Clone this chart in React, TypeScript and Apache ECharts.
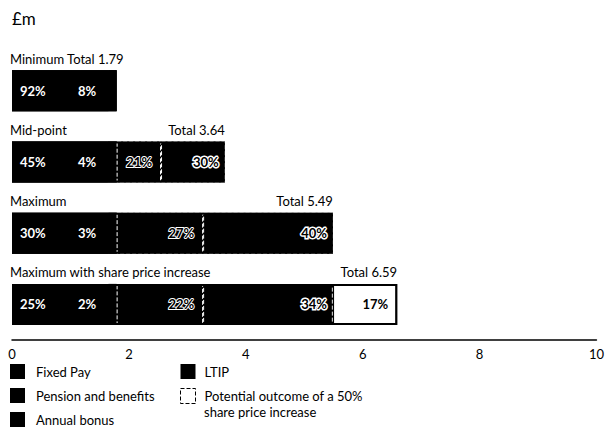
import React, { useEffect, useRef } from "react";
import * as echarts from "echarts";

const categories = ["Minimum", "Mid-point", "Maximum", "Maximum with share price increase"];
const fixedPay = [1.65, 1.64, 1.65, 1.65];
const pension = [0.14, 0.15, 0.14, 0.14];
const bonus = [0, 0.76, 1.48, 1.48];
const ltip = [0, 1.09, 2.22, 2.22];
const shareIncrease = [0, 0, 0, 1.1];
const totals = [1.79, 3.64, 5.49, 6.59];
const fixedPct = [92, 45, 30, 25];
const pensionPct = [8, 4, 3, 2];
const bonusPct = [0, 21, 27, 22];
const ltipPct = [0, 30, 40, 34];
const sharePct = [0, 0, 0, 17];
const xTicks = [0, 2, 4, 6, 8, 10];
const legendNames = [
  "Fixed Pay",
  "Pension and benefits",
  "Annual bonus",
  "LTIP",
  "Potential outcome of a 50%",
];
const legendSecondLine = "share price increase";

const FONT = "Lato, 'Open Sans', sans-serif";
const orEmpty = (arr: number[]) => arr.map((v) => (v ? v : "-"));

export default function App() {
  const ref = useRef<HTMLDivElement>(null);
  useEffect(() => {
    if (!ref.current) return;
    const chart = echarts.init(ref.current, null, { renderer: "svg" });
    const base = { type: "bar", stack: "pay", barWidth: 41, silent: true, z: 2 };
    const pctLabel = { color: "#000", fontSize: 13, fontWeight: "bold", fontFamily: FONT };
    const solid = { color: "#000", borderWidth: 0 };
    const legendCommon = {
      orient: "vertical",
      top: 364,
      padding: 0,
      itemWidth: 15,
      itemHeight: 15,
      itemGap: 9,
      icon: "rect",
      selectedMode: false,
      height: 80,
    };
    chart.setOption({
      animation: false,
      textStyle: { fontFamily: FONT, color: "#000" },
      grid: { left: 12, right: 10, top: 55, bottom: 92, containLabel: false },
      xAxis: {
        type: "value",
        min: xTicks[0],
        max: xTicks[xTicks.length - 1],
        interval: 2,
        axisLine: { show: true, lineStyle: { color: "#000", width: 1.5 } },
        axisTick: { show: false },
        splitLine: { show: false },
        axisLabel: { color: "#000", fontSize: 13, margin: 7, fontFamily: FONT },
      },
      yAxis: {
        type: "category",
        data: categories,
        inverse: true,
        show: false,
      },
      legend: [
        {
          ...legendCommon,
          left: 10,
          data: legendNames.slice(0, 3).map((n) => ({ name: n, itemStyle: solid })),
          textStyle: { fontSize: 13, color: "#000", fontFamily: FONT, padding: [0, 0, 0, 6], lineHeight: 15 },
        },
        {
          ...legendCommon,
          left: 180,
          data: [
            { name: legendNames[3], itemStyle: solid },
            {
              name: legendNames[4],
              itemStyle: { color: "#fff", borderColor: "#000", borderWidth: 1, borderType: "dashed" },
            },
          ],
          textStyle: { fontSize: 13, color: "#000", fontFamily: FONT, padding: [0, 0, 0, 4], lineHeight: 15 },
        },
      ],
      graphic: [
        { type: "text", left: 12, top: 10, style: { text: "£m", fontSize: 17, fill: "#000", fontFamily: FONT } },
        { type: "text", left: 204, top: 405, style: { text: legendSecondLine, fontSize: 13, fill: "#000", fontFamily: FONT } },
      ],
      series: [
        {
          ...base,
          name: legendNames[0],
          data: fixedPay,
          itemStyle: { color: "#000" },
          label: {
            show: true,
            position: "insideLeft",
            distance: 8,
            color: "#fff",
            fontSize: 13,
            fontWeight: "bold",
            fontFamily: FONT,
            formatter: (p: any) => `{a|${fixedPct[p.dataIndex]}%}{b|${pensionPct[p.dataIndex]}%}`,
            rich: {
              a: { width: 58, color: "#fff", fontSize: 13, fontWeight: "bold", fontFamily: FONT },
              b: { color: "#fff", fontSize: 13, fontWeight: "bold", fontFamily: FONT },
            },
          },
        },
        {
          ...base,
          name: legendNames[1],
          data: pension,
          itemStyle: { color: "#000" },
        },
        {
          ...base,
          name: legendNames[2],
          data: orEmpty(bonus),
          itemStyle: { color: "#000", borderColor: "#fff", borderWidth: 1, borderType: "dashed" },
          label: {
            show: true,
            position: "insideRight",
            distance: 9,
            ...pctLabel,
            textBorderColor: "#fff",
            textBorderWidth: 2,
            formatter: (p: any) => (bonusPct[p.dataIndex] ? `${bonusPct[p.dataIndex]}%` : ""),
          },
        },
        {
          ...base,
          name: legendNames[3],
          data: orEmpty(ltip),
          itemStyle: { color: "#000", borderColor: "#fff", borderWidth: 1, borderType: "dashed" },
          label: {
            show: true,
            position: "insideRight",
            distance: 6,
            ...pctLabel,
            textBorderColor: "#fff",
            textBorderWidth: 3,
            formatter: (p: any) => (ltipPct[p.dataIndex] ? `${ltipPct[p.dataIndex]}%` : ""),
          },
        },
        {
          ...base,
          name: legendNames[4],
          data: orEmpty(shareIncrease),
          itemStyle: { color: "#fff", borderColor: "#000", borderWidth: 1.2 },
          label: {
            show: true,
            position: "insideRight",
            distance: 9,
            ...pctLabel,
            formatter: (p: any) => (sharePct[p.dataIndex] ? `${sharePct[p.dataIndex]}%` : ""),
          },
        },
        {
          name: "names",
          type: "bar",
          barWidth: 41,
          barGap: "-100%",
          silent: true,
          z: 3,
          data: totals,
          itemStyle: { color: "rgba(0,0,0,0)", borderColor: "#000", borderWidth: 2 },
          label: {
            show: true,
            position: [-2, -5],
            align: "left",
            verticalAlign: "bottom",
            fontSize: 13,
            fontFamily: FONT,
            color: "#000",
            formatter: (p: any) =>
              p.dataIndex === 0 ? `${categories[0]} Total ${totals[0].toFixed(2)}` : categories[p.dataIndex],
          },
        },
        {
          name: "totals",
          type: "bar",
          barWidth: 41,
          barGap: "-100%",
          silent: true,
          z: 1,
          data: totals,
          itemStyle: { color: "#000" },
          label: {
            show: true,
            position: ["100%", -5],
            align: "right",
            verticalAlign: "bottom",
            fontSize: 13,
            fontFamily: FONT,
            color: "#000",
            formatter: (p: any) => (p.dataIndex === 0 ? "" : `Total ${totals[p.dataIndex].toFixed(2)}`),
          },
        },
      ],
    });
    return () => chart.dispose();
  }, []);
  return <div ref={ref} style={{ width: 607, height: 432, position: "absolute", left: 0, top: 0 }} />;
}
